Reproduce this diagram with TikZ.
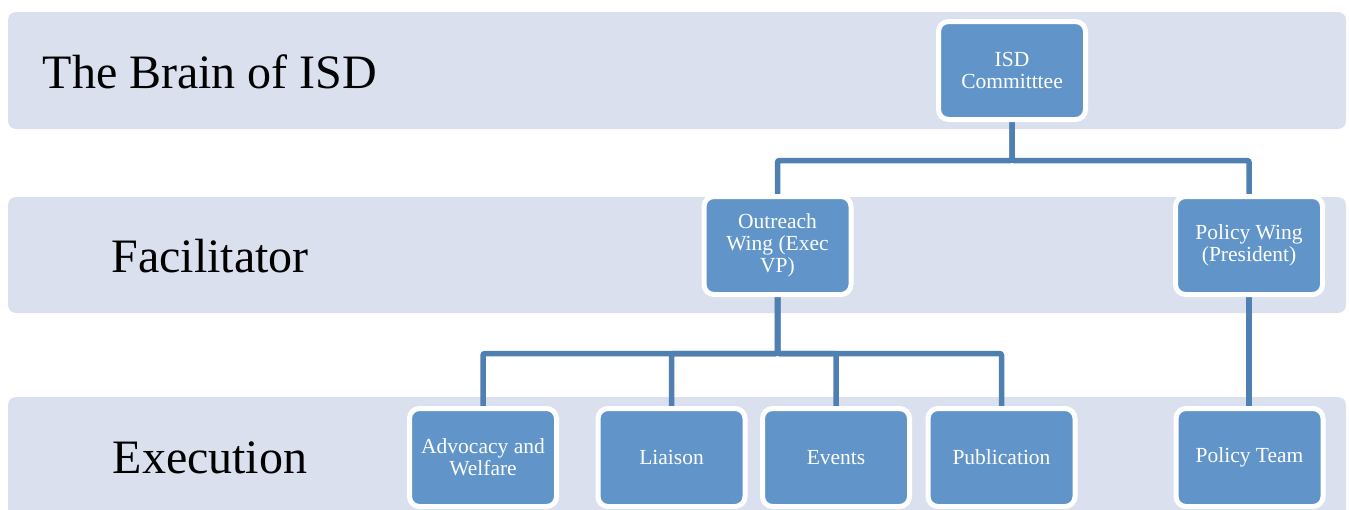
\documentclass[tikz,border=0pt]{standalone}
\usepackage{fontspec}
\setmainfont{Liberation Serif}
\definecolor{bandc}{RGB}{218,224,238}
\definecolor{boxc}{RGB}{97,149,201}
\definecolor{linec}{RGB}{80,127,178}
\pgfdeclarelayer{bands}
\pgfdeclarelayer{lines}
\pgfsetlayers{bands,lines,main}
\begin{document}
\begin{tikzpicture}[x=1pt,y=-1pt,
  band/.style={fill=bandc,draw=none,rounded corners=8},
  lvl/.style={anchor=base,inner sep=0,font=\fontsize{48}{48}\selectfont},
  unit/.style={rectangle,rounded corners=10,fill=boxc,draw=white,line width=5,
    minimum width=147,minimum height=98,inner sep=0,align=center,text=white,
    font=\fontsize{21.5}{22}\selectfont},
  conn/.style={draw=linec,line width=5.5,rounded corners=2}]
\useasboundingbox (0,0) rectangle (1349,509);
\clip (0,0) rectangle (1349,509);
% bands
\begin{pgfonlayer}{bands}
\fill[band] (8,12) rectangle (1346,129);
\fill[band] (8,197) rectangle (1346,313);
\fill[band] (8,397) rectangle (1346,530);
\end{pgfonlayer}
% level labels
\node[lvl] (l1) at (210,88) {The Brain of ISD};
\node[lvl] (l2) at (210,272) {Facilitator};
\node[lvl] (l3) at (210,473) {Execution};
% nodes
\node[unit] (com) at (1012,70.5) {ISD\\Committtee};
\node[unit] (out) at (777.5,245.5) {Outreach\\Wing (Exec\\VP)};
\node[unit] (pw) at (1249,245.5) {Policy Wing\\(President)};
\node[unit] (adv) at (483,457.5) {Advocacy and\\Welfare};
\node[unit] (lia) at (671.5,457.5) {Liaison};
\node[unit] (eve) at (836,457.5) {Events};
\node[unit] (pub) at (1001.5,457.5) {Publication};
\node[unit] (pt) at (1249.5,457.5) {Policy Team};
% connectors, behind the nodes
\begin{pgfonlayer}{lines}
\draw[conn] (com.south) -- ++(0,38.5) -| (out.north);
\draw[conn] (com.south) -- ++(0,38.5) -| (pw.north);
\draw[conn] (out.south) -- ++(0,56.5) -| (adv.north);
\draw[conn] (out.south) -- ++(0,56.5) -| (lia.north);
\draw[conn] (out.south) -- ++(0,56.5) -| (eve.north);
\draw[conn] (out.south) -- ++(0,56.5) -| (pub.north);
\draw[conn] (pw.south) -- (pw.south |- pt.north);
\end{pgfonlayer}
\end{tikzpicture}
\end{document}
